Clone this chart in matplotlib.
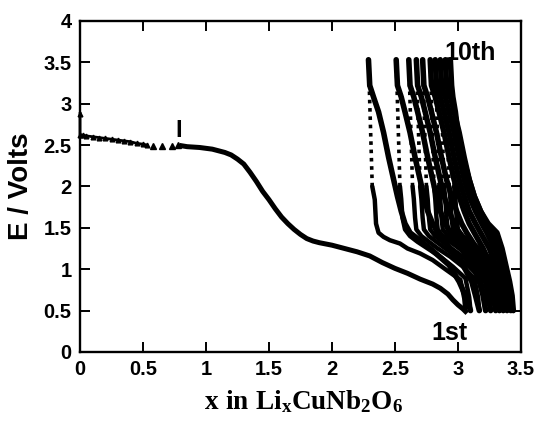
import matplotlib
matplotlib.use("Agg")
import matplotlib.pyplot as plt

plt.rcParams['font.family'] = ['Liberation Sans', 'DejaVu Sans']
plt.rcParams['mathtext.fontset'] = 'custom'
plt.rcParams['mathtext.rm'] = 'Liberation Serif:bold'
plt.rcParams['mathtext.it'] = 'Liberation Serif:bold'
plt.rcParams['mathtext.bf'] = 'Liberation Serif:bold'

# ---------------- data ----------------
# first discharge
d1_x = [0.0, 0.0, 0.02, 0.05, 0.10, 0.15, 0.20, 0.25, 0.30, 0.35, 0.40, 0.45, 0.50, 0.53]
d1_E = [2.88, 2.62, 2.62, 2.61, 2.60, 2.59, 2.58, 2.57, 2.56, 2.55, 2.54, 2.52, 2.51, 2.50]
d1_sparse_x = [0.58, 0.65, 0.73, 0.78]
d1_sparse_E = [2.49, 2.49, 2.49, 2.50]
d1b_x = [0.81, 0.85, 0.95, 1.05, 1.10, 1.15, 1.20, 1.25, 1.30, 1.35, 1.40, 1.45, 1.50,
         1.55, 1.60, 1.65, 1.70, 1.75, 1.80, 1.85, 1.90, 2.00, 2.10, 2.20, 2.30, 2.40,
         2.50, 2.60, 2.70, 2.80, 2.86, 2.92, 2.96, 3.00, 3.04, 3.06]
d1b_E = [2.49, 2.48, 2.47, 2.45, 2.43, 2.41, 2.38, 2.33, 2.27, 2.17, 2.06, 1.94, 1.84,
         1.73, 1.63, 1.55, 1.48, 1.42, 1.37, 1.34, 1.32, 1.29, 1.25, 1.21, 1.16, 1.08,
         1.01, 0.95, 0.88, 0.82, 0.77, 0.70, 0.63, 0.57, 0.52, 0.49]

# charge tops (x at 3.53 V) for cycles 1..10
peak_x = [2.29, 2.51, 2.61, 2.67, 2.72, 2.78, 2.82, 2.86, 2.90, 2.94]
peak_E = 3.53

# charge curves (sloping part, from 0.5 V up to the knee)
charge1_x = [3.06, 3.05, 3.02, 2.90, 2.80, 2.70, 2.60, 2.54, 2.46, 2.41, 2.37, 2.35, 2.34, 2.32]
charge1_E = [0.50, 0.65, 0.87, 1.00, 1.11, 1.19, 1.25, 1.31, 1.35, 1.39, 1.44, 1.55, 1.84, 2.00]
charge_E = [0.50, 0.66, 0.89, 1.03, 1.15, 1.25, 1.33, 1.40, 1.48, 1.62, 1.85, 2.00]
charge_x = [
    [3.10, 3.09, 3.06, 2.96, 2.86, 2.76, 2.68, 2.62, 2.58, 2.56, 2.55, 2.54],
    [3.17, 3.16, 3.13, 3.04, 2.94, 2.84, 2.77, 2.71, 2.67, 2.66, 2.65, 2.64],
    [3.22, 3.21, 3.18, 3.09, 2.99, 2.90, 2.83, 2.77, 2.73, 2.72, 2.71, 2.70],
    [3.26, 3.25, 3.22, 3.13, 3.04, 2.95, 2.88, 2.82, 2.78, 2.77, 2.76, 2.75],
    [3.30, 3.29, 3.26, 3.17, 3.09, 3.01, 2.94, 2.88, 2.84, 2.83, 2.82, 2.81],
    [3.33, 3.32, 3.29, 3.21, 3.13, 3.05, 2.98, 2.92, 2.88, 2.87, 2.86, 2.85],
    [3.36, 3.35, 3.32, 3.24, 3.17, 3.09, 3.02, 2.96, 2.92, 2.91, 2.90, 2.89],
    [3.39, 3.38, 3.35, 3.28, 3.21, 3.13, 3.06, 3.00, 2.96, 2.95, 2.94, 2.93],
    [3.42, 3.41, 3.38, 3.31, 3.24, 3.17, 3.10, 3.04, 3.00, 2.99, 2.98, 2.97],
]

# discharge curves 2..11 (x at these voltages)
disch_E = [3.53, 3.22, 3.08, 2.90, 2.65, 2.35, 2.08, 1.88, 1.70, 1.55, 1.44, 1.25, 1.05, 0.85, 0.68, 0.50]
disch_x = [
    [2.29, 2.30, 2.33, 2.37, 2.41, 2.45, 2.49, 2.52, 2.55, 2.58, 2.62, 2.78, 2.93, 3.01, 3.06, 3.10],
    [2.51, 2.52, 2.55, 2.58, 2.62, 2.66, 2.70, 2.73, 2.76, 2.80, 2.84, 2.94, 3.04, 3.11, 3.14, 3.17],
    [2.61, 2.62, 2.65, 2.68, 2.72, 2.76, 2.80, 2.83, 2.86, 2.90, 2.94, 3.03, 3.12, 3.17, 3.20, 3.22],
    [2.67, 2.68, 2.71, 2.74, 2.78, 2.82, 2.86, 2.89, 2.93, 2.97, 3.01, 3.09, 3.17, 3.22, 3.24, 3.26],
    [2.72, 2.73, 2.76, 2.79, 2.83, 2.87, 2.91, 2.95, 2.99, 3.03, 3.07, 3.15, 3.22, 3.26, 3.28, 3.30],
    [2.78, 2.79, 2.82, 2.85, 2.89, 2.93, 2.97, 3.01, 3.05, 3.09, 3.13, 3.20, 3.26, 3.30, 3.32, 3.33],
    [2.82, 2.83, 2.86, 2.89, 2.93, 2.97, 3.01, 3.05, 3.09, 3.14, 3.18, 3.25, 3.30, 3.33, 3.35, 3.36],
    [2.86, 2.87, 2.90, 2.93, 2.97, 3.01, 3.05, 3.09, 3.14, 3.19, 3.23, 3.29, 3.34, 3.37, 3.38, 3.39],
    [2.90, 2.91, 2.94, 2.97, 3.01, 3.05, 3.09, 3.13, 3.18, 3.23, 3.27, 3.32, 3.37, 3.40, 3.41, 3.42],
    [2.94, 2.95, 2.96, 2.98, 3.00, 3.04, 3.09, 3.13, 3.18, 3.24, 3.31, 3.35, 3.38, 3.41, 3.43, 3.44],
]

x_ticks = [0, 0.5, 1, 1.5, 2, 2.5, 3, 3.5]
x_tick_labels = ['0', '0.5', '1', '1.5', '2', '2.5', '3', '3.5']
y_ticks = [0, 0.5, 1, 1.5, 2, 2.5, 3, 3.5, 4]
y_tick_labels = ['0', '0.5', '1', '1.5', '2', '2.5', '3', '3.5', '4']

# ---------------- plotting ----------------
fig = plt.figure(figsize=(5.37, 4.34), dpi=100)
ax = fig.add_axes([0.149, 0.189, 0.821, 0.763])
k = 'black'

# first discharge
ax.plot(d1_x, d1_E, color=k, lw=2.0, marker='^', ms=3.4, zorder=3, clip_on=False)
ax.plot(d1_sparse_x, d1_sparse_E, ls='none', color=k, marker='^', ms=3.8, zorder=3)
ax.plot(d1b_x, d1b_E, color=k, lw=3.6, zorder=3)

# charges
all_charge_x = [charge1_x] + charge_x
all_charge_E = [charge1_E] + [charge_E] * len(charge_x)
for cx, cE, px in zip(all_charge_x, all_charge_E, peak_x):
    ax.plot(cx, cE, color=k, lw=3.2, solid_capstyle='round', zorder=3)
    ax.plot([cx[-1], px], [cE[-1], peak_E], color=k, lw=2.6,
            ls=(0, (1, 1.3)), zorder=3)

# later discharges
for dx in disch_x:
    ax.plot(dx, disch_E, color=k, lw=4.0, solid_capstyle='round', zorder=3)

ax.set_xlim(0, 3.5)
ax.set_ylim(0, 4)
ax.set_xticks(x_ticks)
ax.set_xticklabels(x_tick_labels)
ax.set_yticks(y_ticks)
ax.set_yticklabels(y_tick_labels)
ax.tick_params(direction='in', length=7, width=1.4, top=True, right=True,
               labelsize=14.5, pad=6)
for lab in ax.get_xticklabels() + ax.get_yticklabels():
    lab.set_fontweight('bold')
for s in ax.spines.values():
    s.set_linewidth(1.7)

ax.set_ylabel('E / Volts', fontsize=20, fontweight='bold')
ax.yaxis.set_label_coords(-0.105, 0.5)

fig.text(0.566, 0.058, r'$\mathrm{x\ in\ Li_{x}CuNb_{2}O_{6}}$', fontsize=19.5,
         ha='center', va='baseline')

ax.text(3.10, 3.53, '10th', fontsize=18, fontweight='bold', ha='center', va='baseline')
ax.text(2.93, 0.145, '1st', fontsize=18, fontweight='bold', ha='center', va='baseline')
ax.text(0.786, 2.60, 'I', fontsize=17, fontweight='bold', ha='center', va='baseline')

fig.savefig('out.png', dpi=100)
